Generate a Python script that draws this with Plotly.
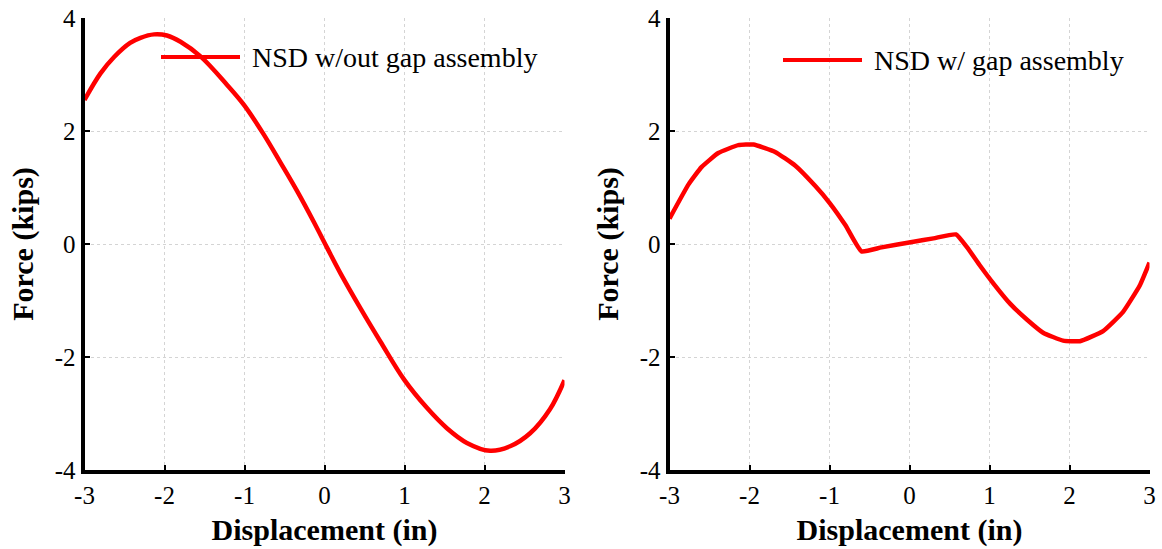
import plotly.graph_objects as go
from plotly.subplots import make_subplots

# ---- data ----
x_nogap = [-3.0, -2.80, -2.63, -2.43, -2.30, -2.13, -1.97, -1.80, -1.55, -1.22, -1.00, -0.76, -0.55, -0.34, -0.13,
           0.03, 0.20, 0.45, 0.70, 1.00, 1.28, 1.53, 1.78, 2.07, 2.32, 2.57, 2.82, 3.0]
f_nogap = [2.55, 3.02, 3.31, 3.56, 3.65, 3.71, 3.69, 3.58, 3.32, 2.82, 2.45, 1.94, 1.44, 0.93, 0.38,
           -0.06, -0.52, -1.14, -1.73, -2.41, -2.90, -3.26, -3.52, -3.66, -3.58, -3.35, -2.92, -2.41]

x_gap = [-3.0, -2.76, -2.60, -2.39, -2.14, -1.95, -1.68, -1.43, -1.18, -1.00, -0.80, -0.60,
         -0.35, 0.05, 0.30, 0.58, 0.72, 0.88, 1.05, 1.26, 1.47, 1.67, 1.92, 2.13, 2.42, 2.67, 2.88, 3.0]
f_gap = [0.45, 1.06, 1.36, 1.61, 1.75, 1.76, 1.63, 1.39, 1.03, 0.73, 0.33, -0.13,
         -0.06, 0.04, 0.10, 0.17, -0.06, -0.38, -0.70, -1.06, -1.34, -1.57, -1.71, -1.72, -1.54, -1.20, -0.73, -0.33]

x_ticks = [-3, -2, -1, 0, 1, 2, 3]
y_ticks = [-4, -2, 0, 2, 4]
legend_labels = ["NSD w/out gap assembly", "NSD w/ gap assembly"]
x_title = "Displacement (in)"
y_title = "Force (kips)"

W, H = 1162, 549
FONT = "Liberation Serif"
RED = "#ff0000"

def px(v):
    return v / W

def py(v):
    return 1 - v / H

fig = make_subplots(rows=1, cols=2)
fig.add_trace(go.Scatter(x=x_nogap, y=f_nogap, mode="lines",
                         line=dict(color=RED, width=4.5, shape="spline", smoothing=1.0),
                         name=legend_labels[0], showlegend=False), row=1, col=1)
fig.add_trace(go.Scatter(x=x_gap, y=f_gap, mode="lines",
                         line=dict(color=RED, width=4.5, shape="spline", smoothing=0.4),
                         name=legend_labels[1], showlegend=False), row=1, col=2)

xdoms = [[px(84.5), px(564.5)], [px(669.5), px(1149.5)]]
ydom = [py(470), py(18)]

for i, ax in enumerate(["", "2"]):
    common = dict(showline=True, linecolor="black", linewidth=4, mirror=False,
                  ticks="inside", ticklen=5, tickwidth=2, tickcolor="black",
                  showgrid=True, gridcolor="#d4d4d4", gridwidth=1, griddash="3px,3px",
                  zeroline=False, automargin=False,
                  tickfont=dict(family=FONT, size=25, color="black"))
    fig.layout["xaxis" + ax].update(domain=xdoms[i], range=[-3, 3], tickvals=x_ticks,
                                    ticktext=[str(t) for t in x_ticks],
                                    title=dict(text="<b>" + x_title + "</b>", standoff=12,
                                               font=dict(family=FONT, size=30, color="black")),
                                    **common)
    fig.layout["yaxis" + ax].update(domain=ydom, range=[-4, 4], tickvals=y_ticks,
                                    ticktext=[str(t) for t in y_ticks],
                                    title=dict(text="<b>" + y_title + "</b>", standoff=13,
                                               font=dict(family=FONT, size=30, color="black")),
                                    **common)

# manual legends
leg = [((161, 240, 57), 250, legend_labels[0]), ((783, 862, 60), 872, legend_labels[1])]
for (x0, x1, yy), tx, label in leg:
    fig.add_shape(type="line", xref="paper", yref="paper", x0=px(x0), x1=px(x1), y0=py(yy), y1=py(yy),
                  line=dict(color=RED, width=4))
    fig.add_annotation(xref="paper", yref="paper", x=px(tx), y=py(yy), xanchor="left", yanchor="middle",
                       text=label, showarrow=False, font=dict(family=FONT, size=28, color="black"))

fig.update_layout(width=W, height=H, margin=dict(l=0, r=0, t=0, b=0),
                  font=dict(family=FONT, color="black"),
                  paper_bgcolor="white", plot_bgcolor="white", showlegend=False)

fig.write_html("out.html")
